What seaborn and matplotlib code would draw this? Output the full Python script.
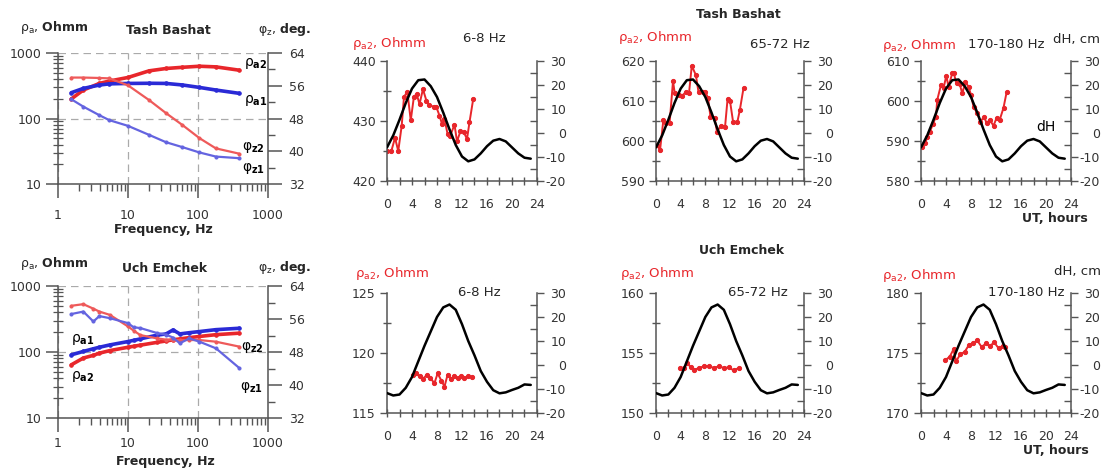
import numpy as np
import pandas as pd
import matplotlib
matplotlib.use("Agg")
import matplotlib.pyplot as plt
import seaborn as sns
from matplotlib.ticker import FixedLocator, LogLocator, NullFormatter, MultipleLocator

# ---- frequency soundings (left column) ----
freq_tb = [1.55, 2.3, 3.9, 5.4, 10, 20, 35, 60, 105, 180, 390]
tb_rho_a1 = [248, 288, 324, 338, 343, 345, 343, 325, 298, 272, 242]
tb_rho_a2 = [199, 272, 343, 373, 423, 534, 580, 605, 628, 614, 546]
tb_phi_z1 = [52.7, 50.9, 48.8, 47.6, 46.2, 44.0, 42.2, 41.0, 39.7, 38.7, 38.3]
tb_phi_z2 = [58.0, 58.0, 57.9, 57.8, 56.1, 52.5, 49.3, 46.4, 43.2, 40.7, 39.4]

freq_ue = [1.55, 2.3, 3.2, 3.9, 5.5, 10, 12, 15, 26, 35, 44, 55, 75, 105, 180, 390]
ue_rho_a1 = [90.6, 102, 112, 118, 128, 144, 150, 158, 180, 188, 216, 188, 196, 204, 218, 229]
ue_rho_a2 = [64, 81, 89, 96, 105, 118, 122, 127, 140, 147, 153, 158, 165, 172, 183, 193]
ue_phi_z1 = [57.2, 57.8, 55.4, 56.7, 56.2, 55.0, 54.0, 53.8, 52.6, 52.2, 51.5, 50.1, 51.3, 50.5, 48.9, 44.1]
ue_phi_z2 = [59.2, 59.6, 58.5, 57.8, 57.0, 54.2, 53.2, 52.1, 51.3, 51.0, 50.9, 50.9, 50.9, 50.9, 50.5, 49.3]

# ---- daily variations of rho_a2 (red) and dH (black) ----
hours = list(range(24))
dh_tb = [-6, -1, 5.5, 12.5, 18.5, 22, 22.3, 19.5, 15, 8.5, 1.5, -5, -9.8, -11.8,
         -11, -8.5, -5.5, -3.2, -2.5, -3.5, -6, -8.5, -10.3, -10.7]
dh_ue = [-11.7, -12.7, -12.3, -9.5, -5, 1.5, 8, 14, 20, 24, 25.2, 23, 17, 10,
         4, -2.5, -7, -10.5, -11.8, -11.4, -10.4, -9.5, -8.1, -8.3]

tb_t1 = [0.05, 0.7, 1.28, 1.8, 2.35, 2.72, 3.25, 3.8, 4.3, 4.75, 5.2, 5.75, 6.3, 6.8,
         7.45, 7.9, 8.4, 8.8, 9.2, 9.7, 10.1, 10.8, 11.2, 11.75, 12.3, 12.8, 13.2, 13.8]
tb_r1 = [425.0, 425.0, 427.2, 425.0, 429.2, 434.0, 434.9, 430.1, 434.0, 434.5, 432.8, 435.3,
         433.4, 432.6, 432.4, 432.3, 430.9, 429.5, 430.3, 427.8, 427.5, 429.4, 426.6, 428.3,
         428.1, 427.0, 429.8, 433.7]
tb_t2 = [0.1, 0.66, 1.2, 1.66, 2.2, 2.76, 3.04, 3.7, 4.25, 4.8, 5.35, 5.8, 6.46, 6.9,
         7.56, 8.0, 8.45, 8.83, 9.5, 9.9, 10.5, 11.2, 11.6, 12.0, 12.5, 13.2, 13.6, 14.2]
tb_r2 = [599.0, 597.8, 605.3, 604.4, 604.4, 615.0, 611.9, 611.5, 611.3, 612.2, 611.9, 618.8,
         616.5, 612.2, 612.2, 612.3, 610.7, 606.1, 605.7, 602.3, 603.8, 603.6, 610.4, 610.0,
         604.8, 604.8, 607.8, 613.3]
tb_t3 = [0.1, 0.65, 1.0, 1.4, 1.9, 2.4, 2.6, 3.2, 3.6, 4.05, 4.4, 5.0, 5.2, 5.7, 6.2, 6.6,
         7.1, 7.6, 8.0, 8.4, 9.0, 9.5, 10.1, 10.5, 11.0, 11.6, 12.1, 12.6, 13.2, 13.7]
tb_r3 = [588.6, 589.4, 591.1, 592.2, 594.2, 596.1, 600.3, 604.0, 603.2, 606.3, 603.6, 606.9,
         607.1, 604.4, 604.2, 601.9, 604.7, 603.6, 601.5, 598.6, 596.9, 594.8, 596.1, 594.4,
         595.3, 593.8, 595.8, 595.3, 598.3, 602.2]

ue_t1 = [4.1, 4.6, 5.2, 5.7, 6.4, 6.9, 7.6, 8.1, 8.7, 9.2, 9.7, 10.3, 10.8, 11.3, 11.8, 12.4, 12.9, 13.6]
ue_r1 = [118.2, 118.3, 118.05, 117.8, 118.2, 117.9, 117.5, 118.3, 117.7, 117.2, 118.2, 117.8,
         118.05, 117.9, 118.05, 117.9, 118.05, 118.0]
ue_t2 = [3.9, 4.6, 5.1, 5.6, 6.2, 7.0, 7.8, 8.6, 9.4, 10.2, 11.0, 11.8, 12.6, 13.4]
ue_r2 = [153.75, 153.75, 154.2, 153.8, 153.6, 153.75, 153.9, 153.9, 153.75, 153.9, 153.75,
         153.8, 153.55, 153.75]
ue_t3 = [3.9, 4.6, 5.2, 5.6, 6.3, 7.0, 7.7, 8.3, 9.0, 9.7, 10.4, 11.0, 11.7, 12.4, 13.1, 13.4]
ue_r3 = [174.4, 174.7, 175.3, 174.3, 174.9, 175.1, 175.7, 175.8, 176.05, 175.5, 175.8, 175.55,
         175.9, 175.4, 175.6, 175.5]

RED = "#e8262b"
BLUE = "#2a2ad6"
RED_L = "#ee5a5a"
BLUE_L = "#6464e0"
GRAY = "#555555"
TXT = "#333333"

sns.set_theme(style="ticks")
plt.rcParams["font.family"] = ["DejaVu Sans"]
plt.rcParams["axes.unicode_minus"] = False
plt.rcParams["mathtext.default"] = "regular"

W, H = 1105, 471
fig = plt.figure(figsize=(W / 100, H / 100), dpi=100)


def box(l, t, r, b):
    return [l / W, 1 - b / H, (r - l) / W, (b - t) / H]


def put(x, y, s, **kw):
    kw.setdefault("va", "center")
    kw.setdefault("fontsize", 9)
    fig.text(x / W, 1 - y / H, s, **kw)


def style_spines(ax, keep):
    for side in ["top", "bottom", "left", "right"]:
        ax.spines[side].set_visible(side in keep)
        ax.spines[side].set_color(GRAY)
        ax.spines[side].set_linewidth(1.1)


def freq_panel(rect, freq, ra1, ra2, pz1, pz2, lab_pos, xpad):
    ax = fig.add_axes(rect)
    ax.set(xscale="log", yscale="log", xlim=(1, 1000), ylim=(10, 1000))
    sns.lineplot(x=freq, y=ra2, ax=ax, color=RED, lw=2.6, marker="o", ms=2.5, mec=RED)
    sns.lineplot(x=freq, y=ra1, ax=ax, color=BLUE, lw=2.6, marker="o", ms=2.5, mec=BLUE)
    ax.xaxis.set_major_locator(FixedLocator([1, 10, 100, 1000]))
    ax.set_xticklabels(["1", "10", "100", "1000"])
    ax.yaxis.set_major_locator(FixedLocator([10, 100, 1000]))
    ax.set_yticklabels(["10", "100", "1000"])
    for a in (ax.xaxis, ax.yaxis):
        a.set_minor_locator(LogLocator(base=10, subs=np.arange(2, 10), numticks=20))
        a.set_minor_formatter(NullFormatter())
    ax.set_xlabel("")
    ax.set_ylabel("")
    ax.grid(True, which="major", ls=(0, (6, 4)), color="#aaaaaa", lw=0.9)
    ax.tick_params(axis="x", which="major", direction="out", length=10, width=1.1,
                   color=GRAY, labelsize=9, labelcolor=TXT, pad=xpad)
    ax.tick_params(axis="x", which="minor", direction="out", length=5, width=1, color=GRAY)
    ax.tick_params(axis="y", which="major", direction="out", length=9, width=1.1,
                   color=GRAY, labelsize=9, labelcolor=TXT, pad=3)
    ax.tick_params(axis="y", which="minor", direction="inout", length=7, width=0.9, color=GRAY)
    style_spines(ax, ["left", "bottom"])

    ax2 = ax.twinx()
    sns.lineplot(x=freq, y=pz2, ax=ax2, color=RED_L, lw=1.6, marker="o", ms=2.2, mec=RED_L)
    sns.lineplot(x=freq, y=pz1, ax=ax2, color=BLUE_L, lw=1.6, marker="o", ms=2.2, mec=BLUE_L)
    ax2.set_ylim(32, 64)
    ax2.set_xlim(1, 1000)
    ax2.set_yticks([32, 40, 48, 56, 64])
    ax2.yaxis.set_minor_locator(MultipleLocator(4))
    ax2.set_ylabel("")
    ax2.tick_params(axis="y", which="major", direction="out", length=10, width=1.1,
                    color=GRAY, labelsize=9, labelcolor=TXT, pad=5)
    ax2.tick_params(axis="y", which="minor", direction="out", length=5, width=1, color=GRAY)
    style_spines(ax2, ["right"])

    names = [r"ρ$_{\mathbf{a1}}$", r"ρ$_{\mathbf{a2}}$", r"φ$_{\mathbf{z1}}$", r"φ$_{\mathbf{z2}}$"]
    for name, (x, y, on2) in zip(names, lab_pos):
        (ax2 if on2 else ax).text(x, y, name, fontsize=10, color="black",
                                  ha="left", va="center")
    return ax, ax2


def time_panel(rect, t, rho, ylim, step, dh):
    ax = fig.add_axes(rect)
    sns.lineplot(x=t, y=rho, ax=ax, color=RED, lw=1.4, marker="o", ms=3, mec=RED)
    ax.set_xlim(0, 24)
    ax.set_ylim(*ylim)
    ax.set_xticks(range(0, 25, 4))
    ax.xaxis.set_minor_locator(MultipleLocator(2))
    ax.set_yticks(np.arange(ylim[0], ylim[1] + 0.1, step))
    ax.yaxis.set_minor_locator(MultipleLocator(step / 2))
    ax.set_xlabel("")
    ax.set_ylabel("")
    ax.tick_params(axis="x", which="both", direction="inout", length=6, width=1,
                   color=GRAY, labelsize=9, labelcolor=TXT, pad=9)
    ax.tick_params(axis="y", which="major", direction="out", length=5, width=1,
                   color=GRAY, labelsize=9, labelcolor=TXT, pad=3)
    ax.tick_params(axis="y", which="minor", direction="inout", length=6, width=1, color=GRAY)
    style_spines(ax, ["left", "bottom"])

    ax2 = ax.twinx()
    sns.lineplot(x=hours, y=dh, ax=ax2, color="black", lw=1.8)
    ax2.set_xlim(0, 24)
    ax2.set_ylim(-20, 30)
    ax2.set_yticks(range(-20, 31, 10))
    ax2.yaxis.set_minor_locator(MultipleLocator(5))
    ax2.set_ylabel("")
    ax2.tick_params(axis="y", which="major", direction="out", length=5, width=1,
                    color=GRAY, labelsize=9, labelcolor=TXT, pad=16)
    ax2.tick_params(axis="y", which="minor", direction="in", length=5, width=1, color=GRAY)
    for lab in ax2.get_yticklabels():
        lab.set_horizontalalignment("right")
    style_spines(ax2, ["right"])
    return ax, ax2


# left column
freq_panel(box(58, 53, 268, 184), freq_tb, tb_rho_a1, tb_rho_a2, tb_phi_z1, tb_phi_z2,
           [(450, 191, False), (450, 700, False), (420, 35.9, True), (420, 41.0, True)], 8)
freq_panel(box(58, 286, 268, 418), freq_ue, ue_rho_a1, ue_rho_a2, ue_phi_z1, ue_phi_z2,
           [(1.55, 152, False), (1.55, 42, False), (400, 39.5, True), (410, 49.2, True)], 4)

# time panels
cols = [(387, 537), (656, 804), (921, 1071)]
rows = [(61, 181), (293, 413)]
tb_sets = [(tb_t1, tb_r1, (420, 440), 10), (tb_t2, tb_r2, (590, 620), 10), (tb_t3, tb_r3, (580, 610), 10)]
ue_sets = [(ue_t1, ue_r1, (115, 125), 5), (ue_t2, ue_r2, (150, 160), 5), (ue_t3, ue_r3, (170, 180), 5)]

for (l, r), (t, rho, yl, st) in zip(cols, tb_sets):
    ax, ax2 = time_panel(box(l, rows[0][0], r, rows[0][1]), t, rho, yl, st, dh_tb)
    last2 = ax2
last2.text(19.9, 2.5, "dH", fontsize=10, ha="center", va="center", color="black")
for (l, r), (t, rho, yl, st) in zip(cols, ue_sets):
    time_panel(box(l, rows[1][0], r, rows[1][1]), t, rho, yl, st, dh_ue)

# texts, left column
rho_hdr = r"ρ$_{a}$, $\mathbf{Ohmm}$"
phi_hdr = r"φ$_{z}$, $\mathbf{deg.}$"
put(20, 28, rho_hdr)
put(168, 30, "Tash Bashat", ha="center", fontweight="bold")
put(258, 30, phi_hdr)
put(163, 229, "Frequency, Hz", ha="center", fontweight="bold")
put(20, 263, rho_hdr)
put(165, 268, "Uch Emchek", ha="center", fontweight="bold")
put(258, 268, phi_hdr)
put(165, 461, "Frequency, Hz", ha="center", fontweight="bold")

# texts, time panels
rho2 = r"ρ$_{a2}$, Ohmm"
put(352, 43, rho2, color=RED, fontsize=9.5)
put(463, 38, "6-8 Hz", fontsize=9.5)
put(738, 15, "Tash Bashat", ha="center", fontweight="bold")
put(618, 37, rho2, color=RED, fontsize=9.5)
put(750, 45, "65-72 Hz", fontsize=9.5)
put(882, 45, rho2, color=RED, fontsize=9.5)
put(968, 45, "170-180 Hz", fontsize=9.5)
put(1053, 39, "dH, cm", fontsize=9.5)
put(1055, 218, "UT, hours", ha="center", fontweight="bold")

put(355, 273, rho2, color=RED, fontsize=9.5)
put(458, 292, "6-8 Hz", fontsize=9.5)
put(742, 250, "Uch Emchek", ha="center", fontweight="bold")
put(620, 274, rho2, color=RED, fontsize=9.5)
put(728, 292, "65-72 Hz", fontsize=9.5)
put(882, 275, rho2, color=RED, fontsize=9.5)
put(1054, 272, "dH, cm", fontsize=9.5)
put(988, 293, "170-180 Hz", fontsize=9.5)
put(1056, 451, "UT, hours", ha="center", fontweight="bold")

fig.savefig("out.png", dpi=100, facecolor="white")
